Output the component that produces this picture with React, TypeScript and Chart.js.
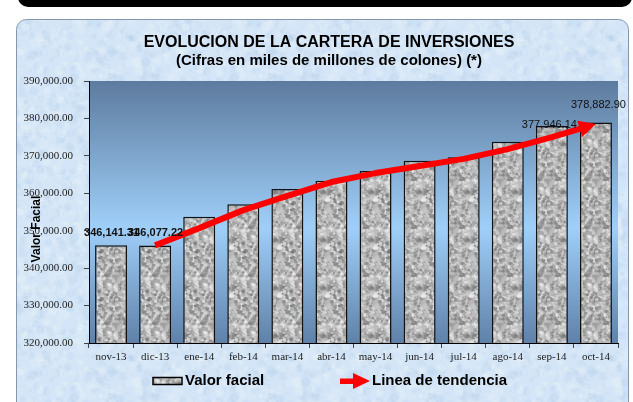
import React, { useEffect, useRef } from 'react';
import { Chart, registerables } from 'chart.js';

Chart.register(...registerables);

const categories = ['nov-13', 'dic-13', 'ene-14', 'feb-14', 'mar-14', 'abr-14', 'may-14', 'jun-14', 'jul-14', 'ago-14', 'sep-14', 'oct-14'];
const valorFacial = [346141.31, 346077.22, 353740, 357100, 361140, 363360, 365950, 368700, 369600, 373800, 377946.14, 378882.9];
const tendencia = [null, 346077.22, 350700, 355500, 359300, 363000, 365400, 367300, 369200, 371800, 375000, 378500];
const yMin = 320000;
const yMax = 390000;
const yStep = 10000;
const labeledBars = [0, 1, 10, 11];
const titleLines = ['EVOLUCION DE LA CARTERA DE INVERSIONES', '(Cifras en miles de millones de colones) (*)'];
const yTitle = 'Valor Facial';
const seriesNames = ['Valor facial', 'Linea de tendencia'];

function rng(seed: number) {
  return () => {
    seed |= 0;
    seed = (seed + 0x6d2b79f5) | 0;
    let t = Math.imul(seed ^ (seed >>> 15), 1 | seed);
    t = (t + Math.imul(t ^ (t >>> 7), 61 | t)) ^ t;
    return ((t ^ (t >>> 14)) >>> 0) / 4294967296;
  };
}

function makeBarPattern(): CanvasPattern | string {
  const c = document.createElement('canvas');
  c.width = 48; c.height = 48;
  const g = c.getContext('2d');
  if (!g) return '#b9b9b9';
  const r = rng(7);
  g.fillStyle = '#bcbcbc';
  g.fillRect(0, 0, 48, 48);
  for (let i = 0; i < 650; i++) {
    const x = r() * 48, y = r() * 48, rad = 0.8 + r() * 1.6;
    const v = Math.round(110 + r() * 140);
    g.fillStyle = `rgba(${v},${v},${v},0.7)`;
    for (const ox of [-48, 0, 48]) for (const oy of [-48, 0, 48]) {
      g.beginPath(); g.arc(x + ox, y + oy, rad, 0, Math.PI * 2); g.fill();
    }
  }
  return g.createPattern(c, 'repeat') || '#b9b9b9';
}

function makePanelPattern(): CanvasPattern | string {
  const s = 160;
  const c = document.createElement('canvas');
  c.width = s; c.height = s;
  const g = c.getContext('2d');
  if (!g) return '#d5e6f6';
  const r = rng(42);
  g.fillStyle = '#d3e5f7';
  g.fillRect(0, 0, s, s);
  for (let i = 0; i < 900; i++) {
    const x = r() * s, y = r() * s, rad = 1 + r() * 4;
    g.fillStyle = r() < 0.6 ? 'rgba(238,245,252,0.22)' : 'rgba(180,205,232,0.18)';
    for (const ox of [-s, 0, s]) for (const oy of [-s, 0, s]) {
      g.beginPath(); g.arc(x + ox, y + oy, rad, 0, Math.PI * 2); g.fill();
    }
  }
  return g.createPattern(c, 'repeat') || '#d5e6f6';
}

function rr(ctx: CanvasRenderingContext2D, x: number, y: number, w: number, h: number, rad: number) {
  ctx.beginPath();
  ctx.moveTo(x + rad, y);
  ctx.lineTo(x + w - rad, y);
  ctx.arcTo(x + w, y, x + w, y + rad, rad);
  ctx.lineTo(x + w, y + h - rad);
  ctx.arcTo(x + w, y + h, x + w - rad, y + h, rad);
  ctx.lineTo(x + rad, y + h);
  ctx.arcTo(x, y + h, x, y + h - rad, rad);
  ctx.lineTo(x, y + rad);
  ctx.arcTo(x, y, x + rad, y, rad);
  ctx.closePath();
}

const fmt = (v: number) => v.toLocaleString('en-US', { minimumFractionDigits: 2, maximumFractionDigits: 2 });

export default function App() {
  const ref = useRef<HTMLCanvasElement | null>(null);

  useEffect(() => {
    document.body.style.margin = '0';
    const canvas = ref.current;
    if (!canvas) return;
    const barPattern = makeBarPattern();
    const panelPattern = makePanelPattern();
    const SANS = '"Liberation Sans", Arial, sans-serif';
    const SERIF = '"Liberation Serif", "Times New Roman", serif';

    const decor = {
      id: 'decor',
      beforeDraw(chart: any) {
        const ctx = chart.ctx as CanvasRenderingContext2D;
        ctx.save();
        // top black band
        ctx.fillStyle = '#000';
        rr(ctx, 18, -20, 614, 27, 10);
        ctx.fill();
        // panel
        rr(ctx, 16.5, 19.5, 612, 400, 10);
        ctx.fillStyle = panelPattern as any;
        ctx.fill();
        ctx.strokeStyle = '#8497ab';
        ctx.lineWidth = 1;
        ctx.stroke();
        // plot area gradient
        const a = chart.chartArea;
        const grd = ctx.createLinearGradient(0, a.top, 0, a.bottom);
        grd.addColorStop(0, '#5d7b9e');
        grd.addColorStop(0.56, '#9fcff9');
        grd.addColorStop(1, '#5f81a9');
        ctx.fillStyle = grd;
        ctx.fillRect(a.left, a.top, a.right - a.left, a.bottom - a.top);
        // titles
        ctx.fillStyle = '#000';
        ctx.textAlign = 'center';
        ctx.textBaseline = 'middle';
        ctx.font = `bold 16px ${SANS}`;
        ctx.fillText(titleLines[0], 329, 43);
        ctx.font = `bold 15px ${SANS}`;
        ctx.fillText(titleLines[1], 329, 61);
        ctx.restore();
      },
      beforeDatasetDraw(chart: any, args: any) {
        if (args.index !== 1) return;
        const pts = chart.getDatasetMeta(1).data;
        const p2 = pts[pts.length - 1], p1 = pts[pts.length - 2];
        const ang = Math.atan2(p2.y - p1.y, p2.x - p1.x);
        const baseX = p2.x - 16 * Math.cos(ang);
        const ctx = chart.ctx;
        ctx.save();
        ctx.beginPath();
        ctx.rect(0, 0, baseX + 1, chart.height);
        ctx.clip();
      },
      afterDatasetDraw(chart: any, args: any) {
        if (args.index !== 1) return;
        const ctx = chart.ctx as CanvasRenderingContext2D;
        ctx.restore();
        const pts = chart.getDatasetMeta(1).data;
        const p2 = pts[pts.length - 1], p1 = pts[pts.length - 2];
        const ang = Math.atan2(p2.y - p1.y, p2.x - p1.x);
        const L = 17, H = 8.5;
        const bx = p2.x - L * Math.cos(ang), by = p2.y - L * Math.sin(ang);
        const nx = -Math.sin(ang), ny = Math.cos(ang);
        ctx.save();
        ctx.fillStyle = '#ff0000';
        ctx.beginPath();
        ctx.moveTo(p2.x, p2.y);
        ctx.lineTo(bx + nx * H, by + ny * H);
        ctx.lineTo(bx - nx * H, by - ny * H);
        ctx.closePath();
        ctx.fill();
        ctx.restore();
      },
      afterDraw(chart: any) {
        const ctx = chart.ctx as CanvasRenderingContext2D;
        const a = chart.chartArea;
        const meta = chart.getDatasetMeta(0);
        ctx.save();
        const style: Record<number, { dx: number; dy: number; bold: boolean }> = {
          0: { dx: 0.5, dy: -12, bold: true },
          1: { dx: 0.5, dy: -12, bold: true },
          10: { dx: -2.5, dy: -1, bold: false },
          11: { dx: 2.5, dy: -18, bold: false },
        };
        ctx.textAlign = 'center';
        ctx.textBaseline = 'middle';
        ctx.fillStyle = '#111';
        labeledBars.forEach((i) => {
          const el = meta.data[i];
          const st = style[i] || { dx: 0, dy: -12, bold: true };
          ctx.font = `${st.bold ? 'bold ' : ''}11px ${SANS}`;
          ctx.fillText(fmt(valorFacial[i]), el.x + st.dx, el.y + st.dy);
        });
        // y axis title
        ctx.save();
        ctx.translate(37, a.top + (a.bottom - a.top) * 0.565);
        ctx.rotate(-Math.PI / 2);
        ctx.font = `bold 12px ${SANS}`;
        ctx.fillStyle = '#000';
        ctx.fillText(yTitle, 0, 0);
        ctx.restore();
        // legend
        const ly = 381;
        ctx.fillStyle = barPattern as any;
        ctx.fillRect(153, 377.5, 29, 7);
        ctx.strokeStyle = '#000';
        ctx.lineWidth = 1.5;
        ctx.strokeRect(153, 377.5, 29, 7);
        ctx.fillStyle = '#000';
        ctx.font = `bold 15px ${SANS}`;
        ctx.textAlign = 'left';
        ctx.fillText(seriesNames[0], 185, ly);
        ctx.fillStyle = '#ff0000';
        ctx.fillRect(340, 378.5, 15, 5.5);
        ctx.beginPath();
        ctx.moveTo(353, 373);
        ctx.lineTo(370, 381);
        ctx.lineTo(353, 389);
        ctx.closePath();
        ctx.fill();
        ctx.fillStyle = '#000';
        ctx.fillText(seriesNames[1], 372, ly);
        ctx.restore();
      },
    };

    const chart = new Chart(canvas, {
      type: 'bar',
      data: {
        labels: categories,
        datasets: [
          {
            type: 'bar',
            label: seriesNames[0],
            data: valorFacial,
            backgroundColor: barPattern as any,
            borderColor: '#111',
            borderWidth: 1.5,
            barPercentage: 0.725,
            categoryPercentage: 1,
            order: 2,
          },
          {
            type: 'line',
            label: seriesNames[1],
            data: tendencia as any,
            borderColor: '#ff0000',
            borderWidth: 6,
            pointRadius: 0,
            tension: 0,
            borderJoinStyle: 'round',
            spanGaps: false,
            order: 1,
          } as any,
        ],
      },
      options: {
        animation: false,
        responsive: true,
        maintainAspectRatio: false,
        layout: { padding: { left: 0, right: 15, top: 81, bottom: 0 } },
        plugins: { legend: { display: false }, title: { display: false }, tooltip: { enabled: false } },
        scales: {
          x: {
            grid: { drawOnChartArea: false, drawTicks: true, tickLength: 5, color: '#444', offset: true },
            border: { display: true, color: '#000', width: 1 },
            ticks: { font: { family: SERIF, size: 11 }, color: '#222', padding: 3, maxRotation: 0, autoSkip: false },
            afterFit: (s: any) => { s.height = 59; },
          },
          y: {
            min: yMin,
            max: yMax,
            grid: { drawOnChartArea: false, drawTicks: true, tickLength: 5, color: '#444' },
            border: { display: true, color: '#000', width: 1 },
            ticks: { stepSize: yStep, font: { family: SERIF, size: 11 }, color: '#222', padding: 11, callback: (v: any) => fmt(Number(v)) },
            afterFit: (s: any) => { s.width = 89; },
          },
        },
      },
      plugins: [decor],
    });
    return () => chart.destroy();
  }, []);

  return (
    <div style={{ position: 'relative', width: 633, height: 402 }}>
      <canvas ref={ref} style={{ display: 'block' }} />
    </div>
  );
}
